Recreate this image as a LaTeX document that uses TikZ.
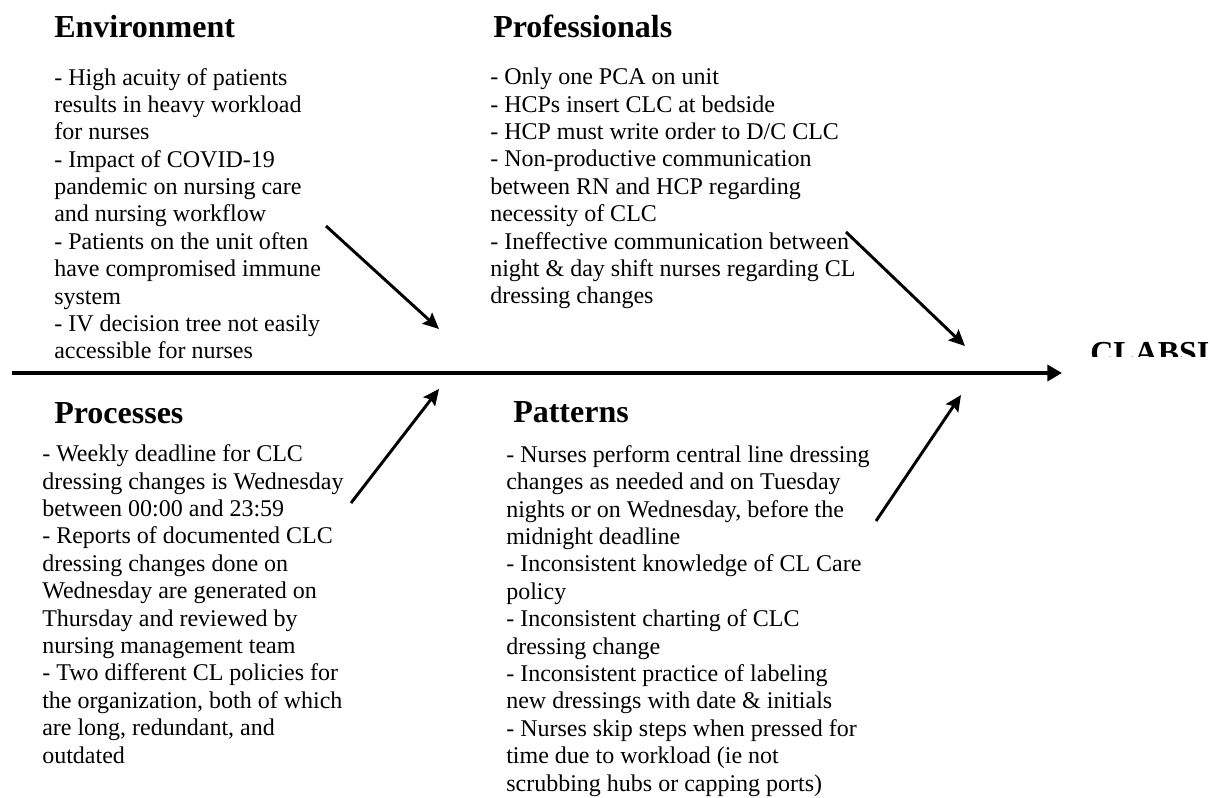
\documentclass[tikz,border=0pt]{standalone}
\usepackage{fontspec}
\setmainfont{Liberation Serif}
\usetikzlibrary{arrows.meta}
\tikzset{
    heading/.style={anchor=base west, inner sep=0pt, font=\fontsize{24}{28}\selectfont\bfseries},
    causes/.style={anchor=base west, inner sep=0pt, align=left, font=\fontsize{18}{20.55}\selectfont},
    spine/.style={-{Triangle[length=11pt, width=12pt]}, line width=3pt},
    bone/.style={-{Stealth[length=12pt, width=11pt, inset=2pt]}, line width=2.2pt}
}

\begin{document}
\begin{tikzpicture}[x=0.75pt, y=-0.75pt]
    \useasboundingbox (0,0) rectangle (1210,798);
    % Spine
    \coordinate (tail) at (12,373);
    \coordinate (head) at (1062,373);
    \draw[spine] (tail) -- (head);
    \begin{scope}
        \clip (1000,300) rectangle (1210,357);
        \node[heading] (effect) at (1090,364) {CLABSI};
    \end{scope}
    % Environment (base = last line)
    \node[heading] (envhead) at (54,38) {Environment};
    \node[causes] (envtext) at (54,359) {- High acuity of patients\\results in heavy workload\\for nurses\\- Impact of COVID-19\\pandemic on nursing care\\and nursing workflow\\- Patients on the unit often\\have compromised immune\\system\\- IV decision tree not easily\\accessible for nurses};
    % Professionals
    \node[heading] (profhead) at (493,38) {Professionals};
    \node[causes] (proftext) at (490,304) {- Only one PCA on unit\\- HCPs insert CLC at bedside\\- HCP must write order to D/C CLC\\- Non-productive communication\\between RN and HCP regarding\\necessity of CLC\\- Ineffective communication between\\night \& day shift nurses regarding CL\\dressing changes};
    % Processes
    \node[heading] (prochead) at (54,423) {Processes};
    \node[causes] (proctext) at (42,763) {- Weekly deadline for CLC\\dressing changes is Wednesday\\between 00:00 and 23:59\\- Reports of documented CLC\\dressing changes done on\\Wednesday are generated on\\Thursday and reviewed by\\nursing management team\\- Two different CL policies for\\the organization, both of which\\are long, redundant, and\\outdated};
    % Patterns
    \node[heading] (pathead) at (513,422) {Patterns};
    \node[causes] (pattext) at (506,791) {- Nurses perform central line dressing\\changes as needed and on Tuesday\\nights or on Wednesday, before the\\midnight deadline\\- Inconsistent knowledge of CL Care\\policy\\- Inconsistent charting of CLC\\dressing change\\- Inconsistent practice of labeling\\new dressings with date \& initials\\- Nurses skip steps when pressed for\\time due to workload (ie not\\scrubbing hubs or capping ports)};
    % Bones
    \coordinate (env1) at (326,226);
    \coordinate (env2) at (439,329);
    \coordinate (prof1) at (846,232);
    \coordinate (prof2) at (965,346);
    \coordinate (proc1) at (351,503);
    \coordinate (proc2) at (439,389);
    \coordinate (pat1) at (876,521);
    \coordinate (pat2) at (961,395);
    \draw[bone] (env1) -- (env2);
    \draw[bone] (prof1) -- (prof2);
    \draw[bone] (proc1) -- (proc2);
    \draw[bone] (pat1) -- (pat2);
\end{tikzpicture}
\end{document}
